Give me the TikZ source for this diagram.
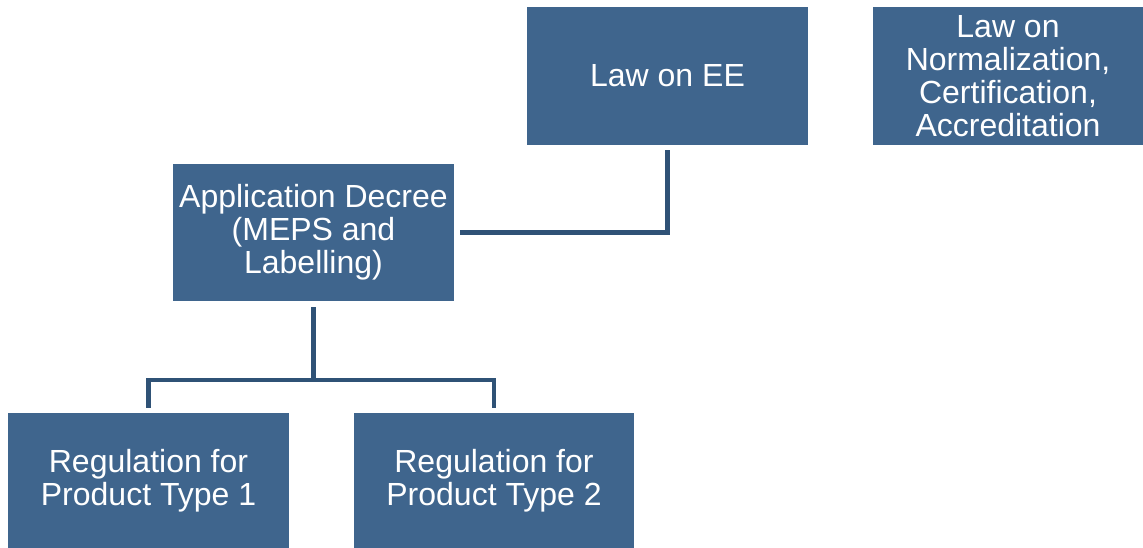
\documentclass[tikz,border=0pt]{standalone}
\usepackage{fontspec}
\setmainfont{Liberation Sans}
\definecolor{boxblue}{HTML}{3F658D}
\definecolor{lineblue}{HTML}{2F5276}
\begin{document}
\begin{tikzpicture}[x=1pt,y=-1pt,
  box/.style={fill=boxblue, draw=none, text=white, align=center, inner sep=0pt,
    font=\fontsize{32}{33}\selectfont},
  conn/.style={draw=lineblue, line width=4.5pt}]
\useasboundingbox (0,0) rectangle (1143,548);
\node[box, minimum width=281pt, minimum height=138pt] (ee) at (667.5,76) {Law on EE};
\node[box, minimum width=270pt, minimum height=138pt] (norm) at (1008,76) {Law on\\Normalization,\\Certification,\\Accreditation};
\node[box, minimum width=281pt, minimum height=137pt] (dec) at (313.5,232.5) {Application Decree\\(MEPS and\\Labelling)};
\node[box, minimum width=281pt, minimum height=135pt] (r1) at (148.5,480.5) {Regulation for\\Product Type 1};
\node[box, minimum width=280pt, minimum height=135pt] (r2) at (494,480.5) {Regulation for\\Product Type 2};
\coordinate (j1) at (313.5,380);
\draw[conn] ([yshift=-5pt]ee.south) |- ([xshift=6pt]dec.east);
\draw[conn] ([yshift=-6pt]dec.south) -- (j1);
\draw[conn] ([yshift=5pt]r1.north) |- (j1) -| ([yshift=5pt]r2.north);
\end{tikzpicture}
\end{document}
